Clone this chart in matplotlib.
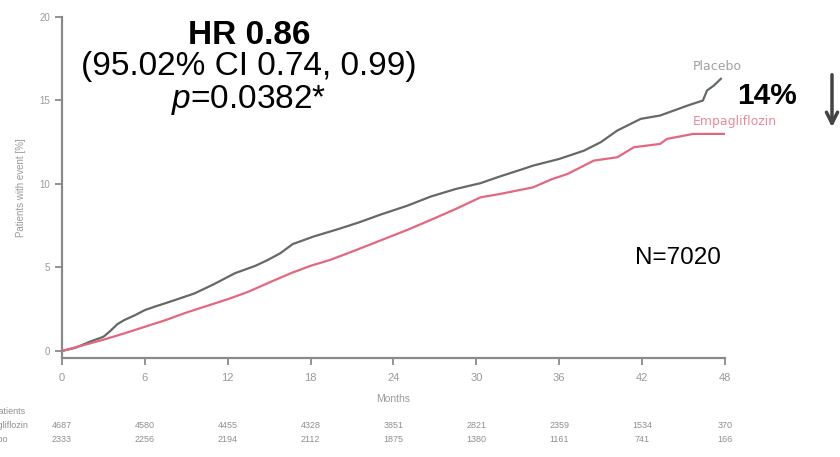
import matplotlib
matplotlib.use("Agg")
import matplotlib.pyplot as plt

plt.rcParams['font.family'] = ['Liberation Sans', 'DejaVu Sans']
plt.rcParams['mathtext.fontset'] = 'custom'
plt.rcParams['mathtext.it'] = 'Liberation Sans:italic'
plt.rcParams['mathtext.rm'] = 'Liberation Sans'

# Data
placebo_months = [0, 1, 2, 3, 3.5, 4, 4.5, 5.3, 6, 6.7, 8, 9.6, 11, 12.5, 14, 14.9, 15.8, 16.7,
                  18.2, 20, 21.5, 23, 25, 26.7, 28.5, 30.3, 31.7, 33.2, 34.1, 36, 37.8, 39,
                  40.2, 41.9, 43.3, 45.3, 46.4, 46.7, 47.2, 47.7]
placebo_vals = [0, 0.2, 0.55, 0.85, 1.2, 1.6, 1.85, 2.15, 2.45, 2.65, 3.0, 3.45, 4.0, 4.65, 5.1,
                5.45, 5.85, 6.4, 6.85, 7.3, 7.7, 8.15, 8.7, 9.25, 9.7, 10.05, 10.45, 10.85, 11.1,
                11.5, 12.0, 12.5, 13.2, 13.9, 14.1, 14.7, 15.0, 15.6, 15.9, 16.3]
empa_months = [0, 2, 3.1, 4.5, 6, 7.5, 9, 10.5, 12, 13.5, 15, 16.7, 18, 19.4, 21, 23, 25, 26.7,
               28.5, 30.3, 31.7, 33.2, 34.1, 35.5, 36.6, 38.5, 40.2, 41.4, 43.3, 43.8, 45.7, 48]
empa_vals = [0, 0.45, 0.7, 1.05, 1.45, 1.85, 2.3, 2.7, 3.1, 3.55, 4.1, 4.7, 5.1, 5.45, 5.95, 6.6,
             7.25, 7.85, 8.5, 9.2, 9.4, 9.65, 9.8, 10.3, 10.6, 11.4, 11.6, 12.2, 12.4, 12.7, 13.0, 13.0]

x_ticks = [0, 6, 12, 18, 24, 30, 36, 42, 48]
y_ticks = [0, 5, 10, 15, 20]
risk_empa = [4687, 4580, 4455, 4328, 3851, 2821, 2359, 1534, 370]
risk_placebo = [2333, 2256, 2194, 2112, 1875, 1380, 1161, 741, 166]

W, H = 840, 457
fig = plt.figure(figsize=(8.4, 4.57), dpi=100)

def fx(px):
    return px / W

def fy(py):
    return 1 - py / H

ax = fig.add_axes([fx(62), fy(358), (725 - 62) / W, (358 - 17) / H])
ax.set_xlim(0, 48)
ax.set_ylim(-0.42, 20)

ax.plot(placebo_months, placebo_vals, color='#646a64', lw=1.6)
ax.plot(empa_months, empa_vals, color='#e3687f', lw=1.6)

spine_c = '#8a8a8a'
for s in ['top', 'right']:
    ax.spines[s].set_visible(False)
for s in ['left', 'bottom']:
    ax.spines[s].set_color(spine_c)
    ax.spines[s].set_linewidth(1.6)

ax.set_xticks(x_ticks)
ax.set_yticks(y_ticks)
ax.tick_params(axis='both', colors=spine_c, labelcolor='#9a9a9a', length=5, width=1.3,
               labelsize=8, direction='out')
ax.tick_params(axis='x', pad=6)
ax.set_xticklabels([str(v) for v in x_ticks])
ax.set_yticklabels([str(v) for v in y_ticks], fontsize=7)
ax.set_xlabel('Months', color='#9a9a9a', fontsize=7.5, labelpad=8)
ax.set_ylabel('Patients with event [%]', color='#9a9a9a', fontsize=7, labelpad=10)

# Annotations
fig.text(fx(249), fy(35), 'HR 0.86', fontsize=24, fontweight='bold', ha='center', va='center')
fig.text(fx(249), fy(67), '(95.02% CI 0.74, 0.99)', fontsize=24, ha='center', va='center')
fig.text(fx(249), fy(100), r'$\it{p}$=0.0382*', fontsize=24, ha='center', va='center')
fig.text(fx(678), fy(258), 'N=7020', fontsize=17.5, ha='center', va='center')
fig.text(fx(767), fy(96), '14%', fontsize=21.5, fontweight='bold', ha='center', va='center')
fig.text(fx(693), fy(67), 'Placebo', fontsize=9, color='#a0a0a0', ha='left', va='center',
         family='DejaVu Sans')
fig.text(fx(693), fy(122), 'Empagliflozin', fontsize=9, color='#ec8a9c', ha='left', va='center',
         family='DejaVu Sans')
fig.add_artist(plt.Annotation('', xy=(fx(832), fy(130)), xytext=(fx(832), fy(72)),
                              xycoords='figure fraction', textcoords='figure fraction',
                              arrowprops=dict(arrowstyle='->', color='#444444', lw=2.5,
                                              mutation_scale=20)))

# Numbers at risk
risk_c = '#8f8f8f'
fig.text(fx(-33), fy(412), 'No. of patients', fontsize=6.5, color=risk_c, ha='left', va='center')
fig.text(fx(-26), fy(425), 'Empagliflozin', fontsize=6.5, color=risk_c, ha='left', va='center')
fig.text(fx(-25), fy(439), 'Placebo', fontsize=6.5, color=risk_c, ha='left', va='center')
for m, a, b in zip(x_ticks, risk_empa, risk_placebo):
    xd = ax.transData.transform((m, 0))[0]
    xf = fig.transFigure.inverted().transform((xd, 0))[0]
    fig.text(xf, fy(425), str(a), fontsize=6.5, color=risk_c, ha='center', va='center')
    fig.text(xf, fy(439), str(b), fontsize=6.5, color=risk_c, ha='center', va='center')

fig.savefig('out.png', dpi=100)
